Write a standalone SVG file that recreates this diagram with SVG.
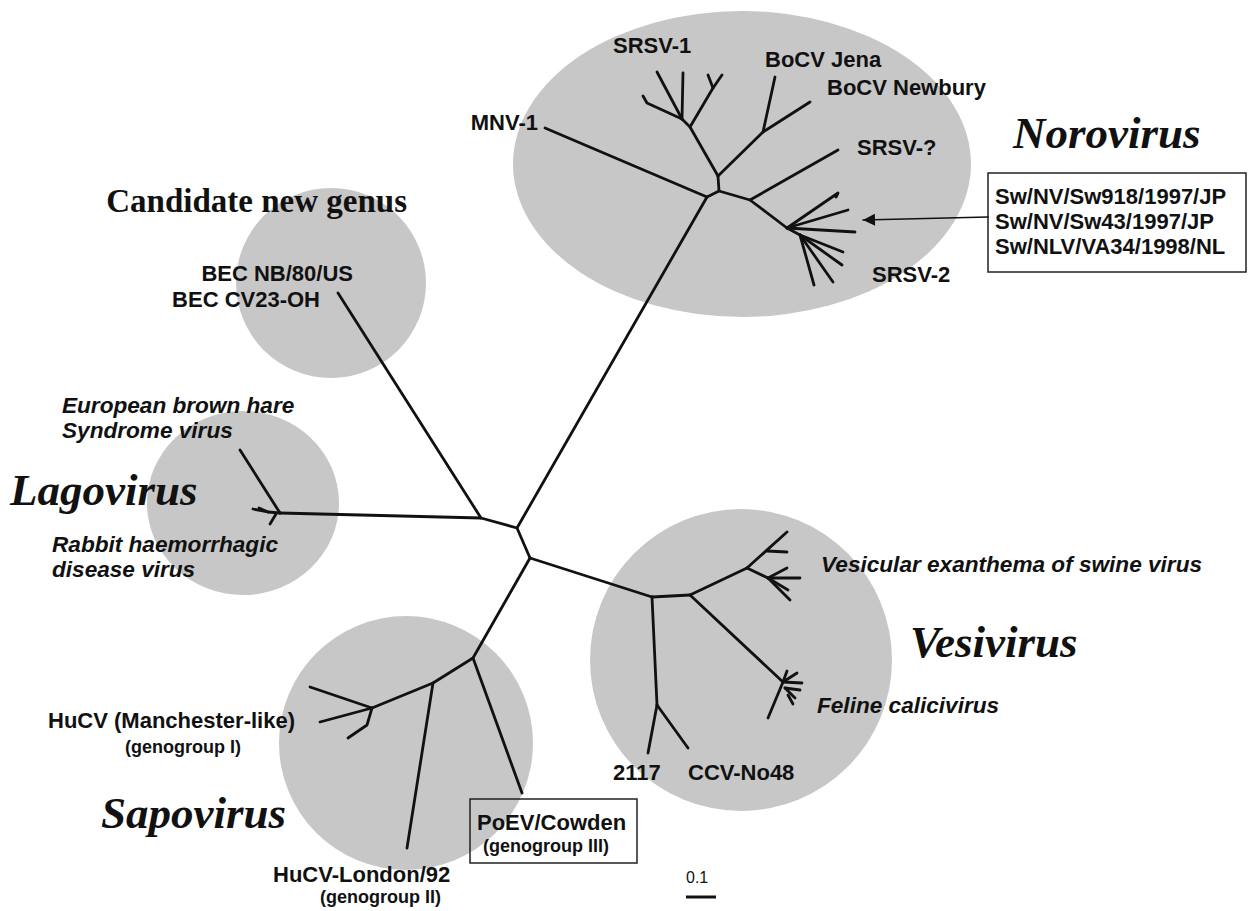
<svg xmlns="http://www.w3.org/2000/svg" width="1249" height="911" viewBox="0 0 1249 911">
<defs>
<style>
.blob{fill:#c7c7c7;stroke:none}
.lbl{font-family:"Liberation Sans",Arial,sans-serif;font-weight:bold;font-size:22px;fill:#111}
.it{font-style:italic;font-size:22.6px}
.sm{font-size:18px}
.genus{font-family:"Liberation Serif","Times New Roman",serif;font-weight:bold;font-style:italic;font-size:45px;fill:#111}
.cand{font-family:"Liberation Serif","Times New Roman",serif;font-weight:bold;font-size:33px;fill:#111}
.br{fill:none;stroke:#111;stroke-width:2.8;stroke-linecap:round;stroke-linejoin:round}
.box{fill:none;stroke:#222;stroke-width:1.5}
</style>
<marker id="ah" viewBox="0 0 10 10" refX="10" refY="5" markerWidth="13" markerHeight="12" markerUnits="userSpaceOnUse" orient="auto">
<path d="M0,0 L10,5 L0,10 Z" fill="#111"/>
</marker>
</defs>
<rect width="1249" height="911" fill="#fff"/>

<g id="norovirus">
<ellipse class="blob" cx="742" cy="164" rx="229" ry="153"/>
<text class="genus" x="1013" y="148">Norovirus</text>
<text class="lbl" x="613" y="53">SRSV-1</text>
<text class="lbl" x="765" y="67">BoCV Jena</text>
<text class="lbl" x="827" y="95">BoCV Newbury</text>
<text class="lbl" x="538" y="130" text-anchor="end">MNV-1</text>
<text class="lbl" x="857" y="155">SRSV-?</text>
<text class="lbl" x="872" y="282">SRSV-2</text>
</g>

<g id="swine-box">
<rect class="box" x="988" y="173" width="258" height="99"/>
<text class="lbl" x="995" y="204">Sw/NV/Sw918/1997/JP</text>
<text class="lbl" x="995" y="229">Sw/NV/Sw43/1997/JP</text>
<text class="lbl" x="995" y="254">Sw/NLV/VA34/1998/NL</text>
</g>

<g id="candidate">
<circle class="blob" cx="331" cy="283" r="95"/>
<text class="cand" x="407" y="212" text-anchor="end">Candidate new genus</text>
<text class="lbl" x="353" y="281" text-anchor="end">BEC NB/80/US</text>
<text class="lbl" x="320" y="307" text-anchor="end">BEC CV23-OH</text>
</g>

<g id="lagovirus">
<ellipse class="blob" cx="243" cy="503" rx="96" ry="92"/>
<text class="genus" x="10" y="505">Lagovirus</text>
<text class="lbl it" x="62" y="413">European brown hare</text>
<text class="lbl it" x="62" y="438">Syndrome virus</text>
<text class="lbl it" x="52" y="552">Rabbit haemorrhagic</text>
<text class="lbl it" x="52" y="577">disease virus</text>
</g>

<g id="vesivirus">
<circle class="blob" cx="741" cy="660" r="151"/>
<text class="genus" x="910" y="657">Vesivirus</text>
<text class="lbl it" x="1202" y="572" text-anchor="end">Vesicular exanthema of swine virus</text>
<text class="lbl it" x="817" y="713">Feline calicivirus</text>
<text class="lbl" x="613" y="780">2117</text>
<text class="lbl" x="688" y="780">CCV-No48</text>
</g>

<g id="sapovirus">
<circle class="blob" cx="406" cy="743" r="127"/>
<text class="genus" x="101" y="828">Sapovirus</text>
<text class="lbl" x="295" y="728" text-anchor="end">HuCV (Manchester-like)</text>
<text class="lbl sm" x="125" y="753">(genogroup I)</text>
<text class="lbl" x="273" y="882">HuCV-London/92</text>
<text class="lbl sm" x="320" y="903">(genogroup II)</text>
</g>

<g id="poev-box">
<rect class="box" x="470" y="799" width="167" height="64"/>
<text class="lbl" x="477" y="830">PoEV/Cowden</text>
<text class="lbl sm" x="483" y="852">(genogroup III)</text>
</g>

<g id="scale">
<text x="686" y="883" font-family="Liberation Sans, Arial, sans-serif" font-size="16" fill="#111">0.1</text>
<line x1="686" y1="897" x2="716" y2="897" stroke="#111" stroke-width="3"/>
</g>

<g id="connectors" class="br">
<!-- backbone -->
<polyline points="280,513 481,518 517,528 530,558"/>
<line x1="338" y1="293" x2="481" y2="518"/>
<line x1="517" y1="528" x2="707" y2="197"/>
<line x1="530" y1="558" x2="652" y2="597"/>
<line x1="530" y1="558" x2="473" y2="658"/>
<!-- lagovirus -->
<line x1="280" y1="513" x2="240" y2="450"/>
<polyline points="253,509 268,512 280,513"/>
<line x1="259" y1="508" x2="268" y2="512"/>
<line x1="270" y1="524" x2="276" y2="514"/>
<!-- norovirus -->
<line x1="707" y1="197" x2="545" y2="128"/>
<polyline points="707,197 719,191 718,176"/>
<polyline points="718,176 690,127 682,119"/>
<line x1="682" y1="119" x2="657" y2="72"/>
<line x1="682" y1="119" x2="683" y2="73"/>
<polyline points="682,119 647,103 643,96"/>
<line x1="690" y1="127" x2="713" y2="88"/>
<line x1="713" y1="88" x2="708" y2="75"/>
<line x1="713" y1="88" x2="722" y2="75"/>
<polyline points="718,176 763,132 810,102"/>
<line x1="763" y1="132" x2="775" y2="77"/>
<polyline points="719,191 750,200 787,228"/>
<line x1="750" y1="200" x2="838" y2="150"/>
<polyline points="787,228 838,193 836,197"/>
<line x1="787" y1="228" x2="848" y2="210"/>
<line x1="787" y1="228" x2="855" y2="232"/>
<line x1="787" y1="228" x2="800" y2="235"/>
<line x1="800" y1="235" x2="843" y2="252"/>
<line x1="800" y1="235" x2="842" y2="265"/>
<line x1="800" y1="235" x2="833" y2="282"/>
<line x1="800" y1="235" x2="814" y2="285"/>
<!-- vesivirus -->
<polyline points="652,597 657,705"/>
<line x1="657" y1="705" x2="648" y2="753"/>
<line x1="657" y1="705" x2="688" y2="748"/>
<line x1="652" y1="597" x2="690" y2="595"/>
<line x1="690" y1="595" x2="747" y2="568"/>
<line x1="690" y1="595" x2="783" y2="682"/>
<line x1="747" y1="568" x2="787" y2="532"/>
<line x1="767" y1="551" x2="787" y2="552"/>
<line x1="747" y1="568" x2="768" y2="578"/>
<line x1="768" y1="578" x2="787" y2="568"/>
<line x1="768" y1="578" x2="800" y2="578"/>
<line x1="768" y1="578" x2="788" y2="590"/>
<line x1="768" y1="578" x2="790" y2="600"/>
<line x1="783" y1="682" x2="787" y2="671"/>
<line x1="783" y1="682" x2="797" y2="673"/>
<line x1="783" y1="682" x2="802" y2="683"/>
<line x1="785" y1="688" x2="800" y2="690"/>
<line x1="785" y1="688" x2="795" y2="698"/>
<line x1="783" y1="682" x2="768" y2="718"/>
<line x1="788" y1="695" x2="793" y2="704"/>
<!-- sapovirus -->
<line x1="473" y1="658" x2="522" y2="793"/>
<polyline points="473,658 433,683 372,708"/>
<line x1="433" y1="683" x2="407" y2="848"/>
<line x1="372" y1="708" x2="310" y2="687"/>
<line x1="372" y1="708" x2="320" y2="722"/>
<polyline points="372,708 367,725 348,738"/>
<!-- arrow -->
<line x1="988" y1="217" x2="863" y2="220" stroke-width="1.6" marker-end="url(#ah)"/>
</g>
</svg>
